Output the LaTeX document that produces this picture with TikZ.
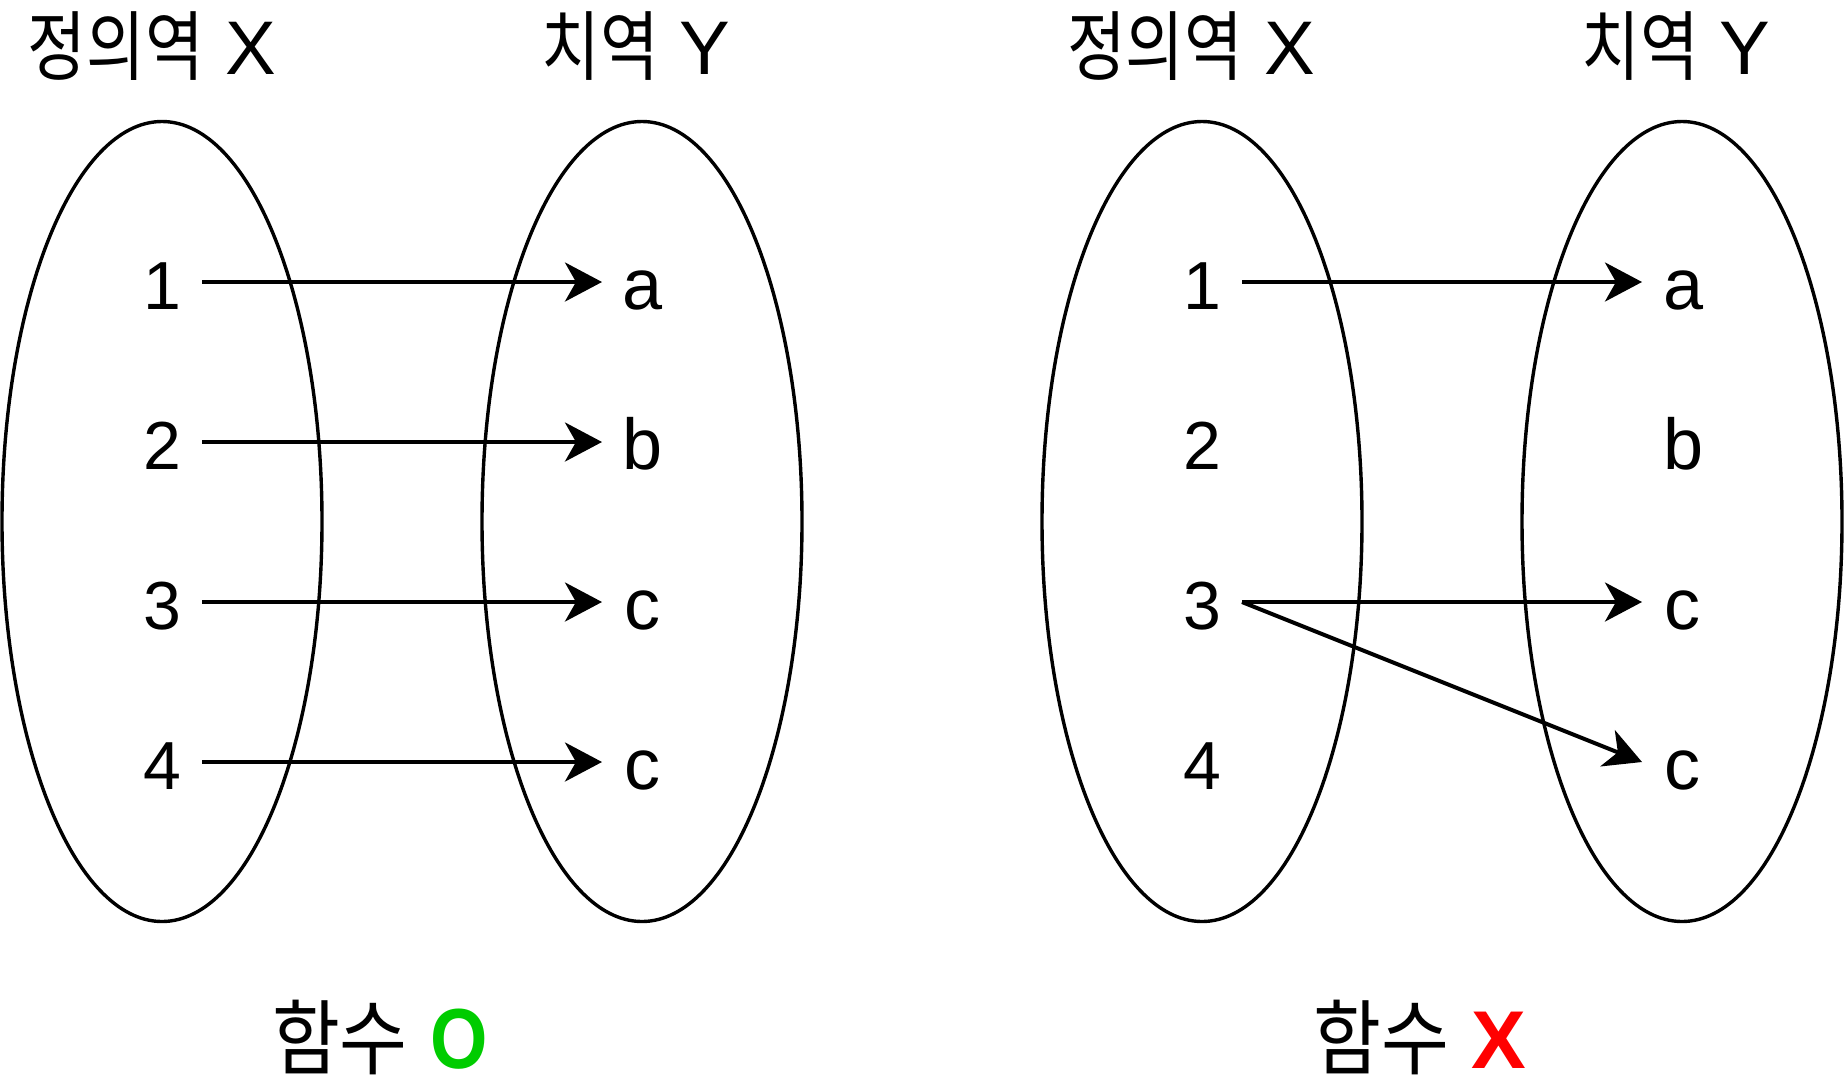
\documentclass[tikz,border=0pt]{standalone}
\usepackage{fontspec}
\setmainfont{Liberation Sans}
\newfontfamily\kr{Noto Sans CJK KR}
\usetikzlibrary{arrows.meta}
\tikzset{
  setell/.style={line width=3.4pt},
  arr/.style={line width=4pt,-{Stealth[length=37pt,width=39pt,inset=11pt]}},
  elem/.style={anchor=base,inner sep=0pt,font=\fontsize{68}{72}\selectfont},
  lett/.style={anchor=base,inner sep=0pt,font=\fontsize{72}{76}\selectfont},
  ttl/.style={anchor=base,inner sep=0pt,font=\fontsize{76}{80}\selectfont},
  res/.style={anchor=base,inner sep=0pt,font=\fontsize{82}{86}\selectfont},
}
\newcommand{\ko}[1]{{\kr\scalebox{0.84}[1]{#1}}}
\newcommand{\kob}[1]{{\kr\scalebox{0.9}[1]{#1}}}
\begin{document}
\begin{tikzpicture}[x=1pt,y=-1pt]
\useasboundingbox (0,0) rectangle (1844,1088);
% ellipses
\draw[setell] (162,521.5) ellipse [x radius=160,y radius=400];
\draw[setell] (642,521.5) ellipse [x radius=160,y radius=400];
\draw[setell] (1202,521.5) ellipse [x radius=160,y radius=400];
\draw[setell] (1682,521.5) ellipse [x radius=160,y radius=400];
% titles
\node[ttl] (tX1) at (152,74) {\ko{정의역} X};
\node[ttl] (tY1) at (636,74) {\ko{치역} Y};
\node[ttl] (tX2) at (1191,74) {\ko{정의역} X};
\node[ttl] (tY2) at (1676,74) {\ko{치역} Y};
% left diagram elements
\node[elem] (l1) at (162,309) {1};
\node[elem] (l2) at (162,469) {2};
\node[elem] (l3) at (162,629) {3};
\node[elem] (l4) at (162,789) {4};
\node[lett] (la) at (643,309) {a};
\node[lett] (lb) at (643,469) {b};
\node[lett] (lc) at (642,629) {c};
\node[lett] (ld) at (642,789) {c};
% right diagram elements
\node[elem] (r1) at (1202,309) {1};
\node[elem] (r2) at (1202,469) {2};
\node[elem] (r3) at (1202,629) {3};
\node[elem] (r4) at (1202,789) {4};
\node[lett] (ra) at (1683,309) {a};
\node[lett] (rb) at (1683,469) {b};
\node[lett] (rc) at (1682,629) {c};
\node[lett] (rd) at (1682,789) {c};
% connector end points
\coordinate (ls1) at (202,282); \coordinate (le1) at (602,282);
\coordinate (ls2) at (202,442); \coordinate (le2) at (602,442);
\coordinate (ls3) at (202,602); \coordinate (le3) at (602,602);
\coordinate (ls4) at (202,762); \coordinate (le4) at (602,762);
\coordinate (rs1) at (1242,282); \coordinate (re1) at (1642,282);
\coordinate (rs3) at (1242,602); \coordinate (re3) at (1642,602);
\coordinate (re4) at (1642,762);
% arrows
\draw[arr] (ls1) -- (le1);
\draw[arr] (ls2) -- (le2);
\draw[arr] (ls3) -- (le3);
\draw[arr] (ls4) -- (le4);
\draw[arr] (rs1) -- (re1);
\draw[arr] (rs3) -- (re3);
\draw[arr] (rs3) -- (re4);
% results
\node[res] (fO) at (380,1068) {\kob{함수} \textcolor[HTML]{00CC00}{\scalebox{0.9}[1.04]{\textbf{O}}}};
\node[res] (fX) at (1420,1068) {\kob{함수} \textcolor[HTML]{FF0000}{\textbf{X}}};
\end{tikzpicture}
\end{document}
